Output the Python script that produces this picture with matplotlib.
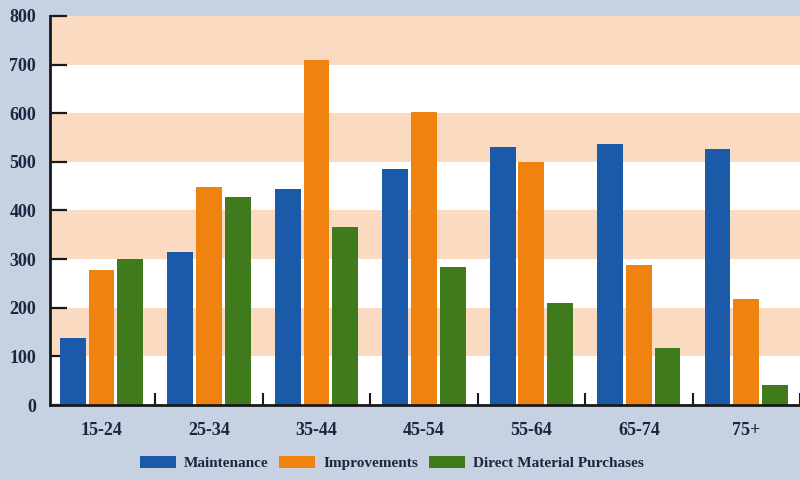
import matplotlib
matplotlib.use("Agg")
import matplotlib.pyplot as plt
import numpy as np

# Age groups and spending per category
age_groups = ["15-24", "25-34", "35-44", "45-54", "55-64", "65-74", "75+"]
maintenance = [138, 315, 445, 486, 531, 536, 527]
improvements = [277, 449, 710, 603, 500, 287, 218]
direct_purchases = [300, 428, 366, 284, 210, 117, 41]

series_names = ["Maintenance", "Improvements", "Direct Material Purchases"]
series_colors = ["#1a5aa8", "#f0830f", "#3f7a1c"]
y_ticks = [0, 100, 200, 300, 400, 500, 600, 700, 800]

bg = "#c6d1e2"
peach = "#fadbc2"
text_col = "#1b2640"

plt.rcParams["font.family"] = ["Liberation Serif", "DejaVu Serif"]
plt.rcParams["font.weight"] = "bold"

fig = plt.figure(figsize=(8, 4.8), dpi=100, facecolor=bg)
ax = fig.add_axes([0.0625, 0.156, 0.9375, 0.811])
ax.set_facecolor("white")

# alternating horizontal bands
for lo in range(100, 800, 200):
    ax.axhspan(lo, lo + 100, color=peach, lw=0, zorder=0)

x = np.arange(len(age_groups))
width = 0.24
offset = 0.267
for i, (vals, name, col) in enumerate(zip([maintenance, improvements, direct_purchases],
                                          series_names, series_colors)):
    ax.bar(x + (i - 1) * offset, vals, width=width, color=col, label=name, zorder=2)

ax.set_xlim(-0.48, 6.43)
ax.set_ylim(0, 800)

for s in ["top", "right"]:
    ax.spines[s].set_visible(False)
for s in ["left", "bottom"]:
    ax.spines[s].set_color("#1a1a1a")
    ax.spines[s].set_linewidth(2)

ax.set_yticks(y_ticks)
ax.set_yticklabels([str(v) for v in y_ticks], fontsize=13, fontweight="bold", color=text_col)
ax.tick_params(axis="y", direction="in", length=12, width=1.6, color="#1a1a1a", pad=10)

# group labels centred under each group, small boundary ticks between groups
ax.set_xticks(x)
ax.set_xticklabels(age_groups, fontsize=13, fontweight="bold", color=text_col)
ax.tick_params(axis="x", which="major", length=0, pad=12)
ax.set_xticks(np.arange(len(age_groups)) + 0.5, minor=True)
ax.tick_params(axis="x", which="minor", direction="in", length=9, width=1.5, color="#1a1a1a")

leg = fig.legend(loc="center", bbox_to_anchor=(0.49, 0.035), ncol=3, frameon=False,
                 handlelength=2.35, handleheight=0.85, handletextpad=0.55, columnspacing=0.7,
                 prop={"family": ["Liberation Serif"], "weight": "bold", "size": 11})
for t in leg.get_texts():
    t.set_color(text_col)

fig.savefig("out.png", dpi=100, facecolor=bg)
